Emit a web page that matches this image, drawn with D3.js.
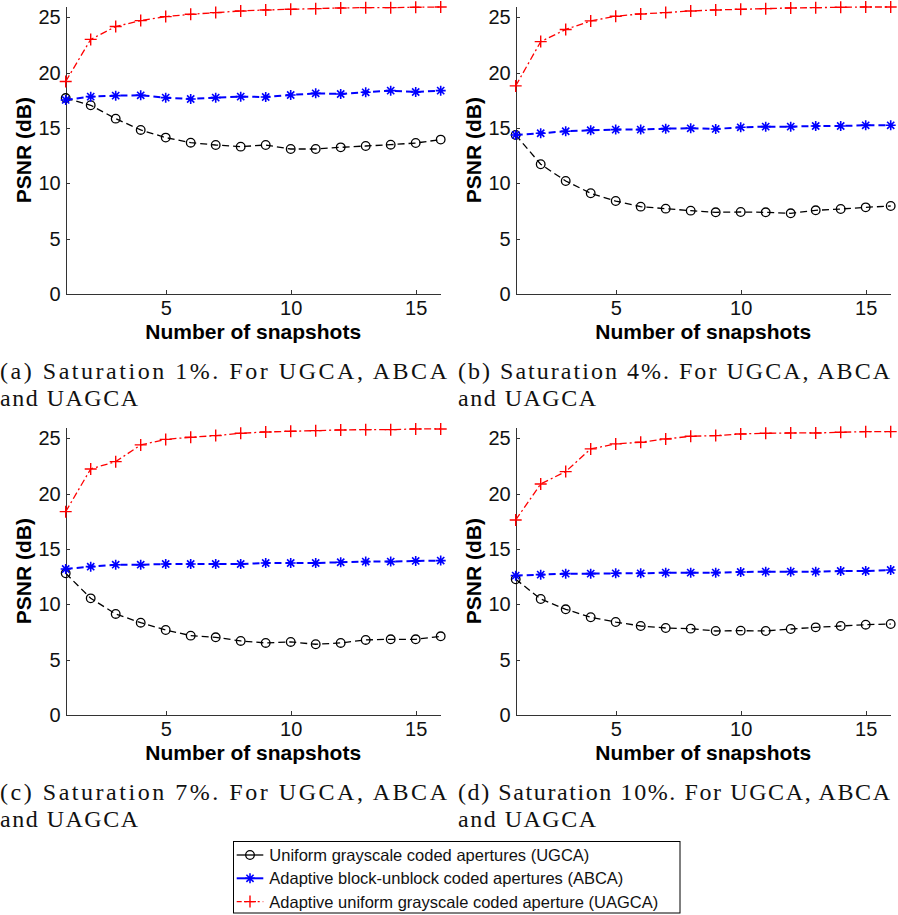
<!DOCTYPE html>
<html lang="en">
<head>
    <meta charset="UTF-8"/>
    <title>psnr</title>
    <script src="https://d3js.org/d3.v7.min.js"></script>
    <style type="text/css">
        body { margin: 0; background: white; }
        text { font-family: "Liberation Sans", Arial, sans-serif; }
        .axis path, .axis line { fill: none; stroke: #333; shape-rendering: crispEdges; }
        .axis text { font-size: 20px; fill: #111; }
        .caption { font-family: "Liberation Serif", "Times New Roman", serif; font-size: 24px; fill: #111; }
    </style>
</head>
<body>
<div id="chart"></div>
<script>

// x values and ticks
var snapshots = [1, 2, 3, 4, 5, 6, 7, 8, 9, 10, 11, 12, 13, 14, 15, 16]
var yTicks = [0, 5, 10, 15, 20, 25]
var xTicks = [5, 10, 15]

// (a) saturation 1%
var ugca1  = [17.7, 17.05, 15.84, 14.82, 14.13, 13.67, 13.46, 13.31, 13.46, 13.1, 13.1, 13.25, 13.37, 13.49, 13.64, 13.95]
var abca1  = [17.53, 17.83, 17.92, 17.95, 17.74, 17.62, 17.74, 17.83, 17.8, 17.98, 18.13, 18.07, 18.22, 18.37, 18.25, 18.37]
var uagca1 = [19.2, 23.0, 24.16, 24.7, 25.06, 25.27, 25.42, 25.57, 25.66, 25.72, 25.78, 25.84, 25.87, 25.87, 25.9, 25.93]

// (b) saturation 4%
var ugca4  = [14.37, 11.72, 10.21, 9.1, 8.4, 7.89, 7.71, 7.53, 7.38, 7.41, 7.38, 7.29, 7.56, 7.68, 7.83, 7.95]
var abca4  = [14.37, 14.52, 14.7, 14.79, 14.85, 14.85, 14.94, 14.97, 14.91, 15.06, 15.12, 15.12, 15.18, 15.18, 15.24, 15.24]
var uagca4 = [18.8, 22.8, 23.9, 24.67, 25.09, 25.3, 25.42, 25.57, 25.66, 25.72, 25.78, 25.84, 25.87, 25.9, 25.93, 25.93]

// (c) saturation 7%
var ugca7  = [12.8, 10.54, 9.13, 8.34, 7.68, 7.17, 7.02, 6.69, 6.51, 6.6, 6.39, 6.51, 6.78, 6.84, 6.84, 7.11]
var abca7  = [13.19, 13.4, 13.58, 13.58, 13.64, 13.64, 13.64, 13.64, 13.73, 13.73, 13.73, 13.8, 13.86, 13.86, 13.92, 13.95]
var uagca7 = [18.37, 22.23, 22.89, 24.4, 24.9, 25.09, 25.24, 25.45, 25.57, 25.63, 25.69, 25.75, 25.78, 25.78, 25.84, 25.84]

// (d) saturation 10%
var ugca10  = [12.26, 10.48, 9.55, 8.83, 8.4, 8.04, 7.86, 7.8, 7.59, 7.62, 7.59, 7.77, 7.92, 8.04, 8.16, 8.22]
var abca10  = [12.59, 12.68, 12.77, 12.77, 12.8, 12.8, 12.86, 12.86, 12.86, 12.92, 12.95, 12.95, 12.95, 13.01, 13.01, 13.1]
var uagca10 = [17.62, 20.87, 21.99, 24.04, 24.49, 24.64, 24.94, 25.18, 25.24, 25.39, 25.45, 25.48, 25.48, 25.54, 25.6, 25.6]

var captions = [
  ["(a) Saturation 1%.  For UGCA, ABCA", "and UAGCA"],
  ["(b) Saturation 4%.  For UGCA, ABCA", "and UAGCA"],
  ["(c) Saturation 7%.  For UGCA, ABCA", "and UAGCA"],
  ["(d) Saturation 10%.  For UGCA, ABCA", "and UAGCA"]
]
var legendLabels = [
  "Uniform grayscale coded apertures (UGCA)",
  "Adaptive block-unblock coded apertures (ABCA)",
  "Adaptive uniform grayscale coded aperture (UAGCA)"
]

var panels = [
  {dx: 0,   dy: 0,   series: [ugca1, abca1, uagca1],    caption: captions[0]},
  {dx: 450, dy: 0,   series: [ugca4, abca4, uagca4],    caption: captions[1]},
  {dx: 0,   dy: 421, series: [ugca7, abca7, uagca7],    caption: captions[2]},
  {dx: 450, dy: 421, series: [ugca10, abca10, uagca10], caption: captions[3]}
]

// line style per series: black dashed circles, blue dashed stars, red dash-dot plus
var styles = [
  {color: "#000", dash: "7,4", width: 1.3, marker: "circle"},
  {color: "#0000ff", dash: "7,4", width: 2, marker: "star"},
  {color: "#ff0000", dash: "7,3,2,3", width: 1.3, marker: "plus"}
]

var svg = d3.select("#chart").append("svg")
    .attr("width", 898)
    .attr("height", 915)

var x = d3.scaleLinear().domain([1, 16]).range([65.7, 440.7])
var y = d3.scaleLinear().domain([0, 26]).range([294, 6.2])

function drawMarker(g, type, color) {
  if (type == "circle") {
    g.append("circle").attr("r", 4.3)
      .attr("fill", "none").attr("stroke", color).attr("stroke-width", 1.3)
  } else if (type == "star") {
    g.append("path").attr("d", "M-5,0H5M0,-5V5M-3.6,-3.6L3.6,3.6M-3.6,3.6L3.6,-3.6")
      .attr("stroke", color).attr("stroke-width", 1.6).attr("fill", "none")
  } else {
    g.append("path").attr("d", "M-6,0H6M0,-6V6")
      .attr("stroke", color).attr("stroke-width", 1.4).attr("fill", "none")
  }
}

var line = d3.line()
    .x(function(d, i) { return x(snapshots[i]) })
    .y(function(d) { return y(d) })

panels.forEach(function(p) {
  var g = svg.append("g").attr("transform", "translate(" + p.dx + "," + p.dy + ")")

  g.append("g").attr("class", "axis")
    .attr("transform", "translate(" + x(1) + ",0)")
    .call(d3.axisLeft(y).tickValues(yTicks).tickSizeInner(-4).tickSizeOuter(0).tickPadding(5))

  g.append("g").attr("class", "axis")
    .attr("transform", "translate(0," + y(0) + ")")
    .call(d3.axisBottom(x).tickValues(xTicks).tickSizeInner(-4).tickSizeOuter(0).tickPadding(7))

  p.series.forEach(function(vals, k) {
    var s = styles[k]
    g.append("path")
      .attr("d", line(vals))
      .attr("fill", "none")
      .attr("stroke", s.color)
      .attr("stroke-width", s.width)
      .attr("stroke-dasharray", s.dash)

    vals.forEach(function(v, i) {
      var m = g.append("g").attr("transform", "translate(" + x(snapshots[i]) + "," + y(v) + ")")
      drawMarker(m, s.marker, s.color)
    })
  })

  g.append("text")
    .attr("transform", "translate(31," + (y(0) + y(26)) / 2 + ") rotate(-90)")
    .attr("text-anchor", "middle")
    .style("font-size", "21px").style("font-weight", "bold")
    .text("PSNR (dB)")

  g.append("text")
    .attr("x", (x(1) + x(16)) / 2).attr("y", 339)
    .attr("text-anchor", "middle")
    .style("font-size", "21px").style("font-weight", "bold")
    .text("Number of snapshots")

  var cx = p.dx == 0 ? 0 : 8
  g.append("text").attr("class", "caption")
    .attr("x", cx).attr("y", 379)
    .attr("textLength", 440 - cx + (p.dx == 0 ? 7 : 0)).attr("lengthAdjust", "spacing")
    .text(p.caption[0])
  g.append("text").attr("class", "caption")
    .attr("x", cx).attr("y", 406)
    .attr("textLength", 138).attr("lengthAdjust", "spacing")
    .text(p.caption[1])
})

// legend
var lg = svg.append("g")
lg.append("rect")
  .attr("x", 233.5).attr("y", 841.5).attr("width", 446.5).attr("height", 71.5)
  .attr("fill", "white").attr("stroke", "#000").attr("stroke-width", 1)

legendLabels.forEach(function(label, k) {
  var s = styles[k]
  var cy = 855 + k * 23.3
  lg.append("line")
    .attr("x1", 236.7).attr("x2", 263.3).attr("y1", cy).attr("y2", cy)
    .attr("stroke", s.color).attr("stroke-width", s.width)
    .attr("stroke-dasharray", k == 2 ? "5,3,2,3" : null)
  var m = lg.append("g").attr("transform", "translate(250," + cy + ")")
  drawMarker(m, s.marker, s.color)
  lg.append("text")
    .attr("x", 269.3).attr("y", cy + 6)
    .style("font-size", "16.5px").style("fill", "#111")
    .text(label)
})

</script>
</body>
</html>
